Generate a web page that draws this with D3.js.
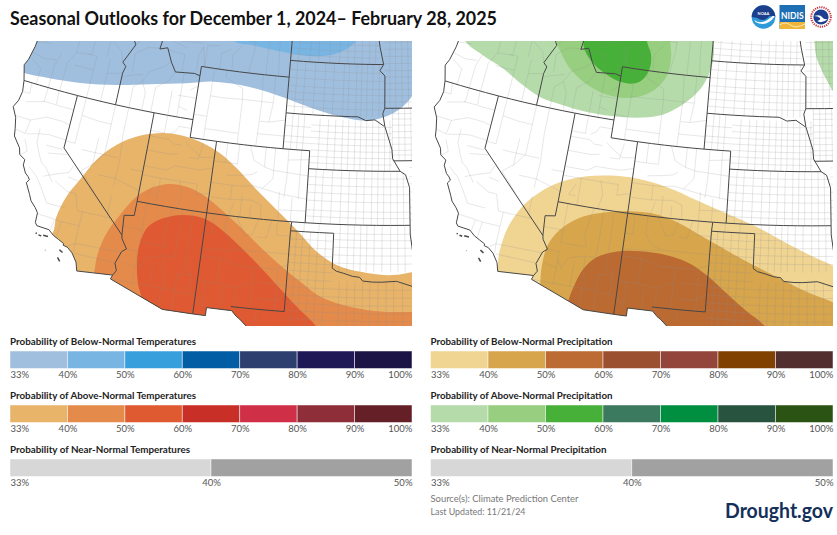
<!DOCTYPE html>
<html>
<head>
<meta charset="utf-8">
<style>
body { margin: 0; background: #fff; }
text { font-family: Lato, "Noto Sans", sans-serif; }
</style>
<script src="https://cdn.jsdelivr.net/npm/d3@7"></script>
</head>
<body>
<div id="chart_area"></div>
<script>
// legend values
var below33to100 = ["33%", "40%", "50%", "60%", "70%", "80%", "90%", "100%"];
var nearTicks = ["33%", "40%", "50%"];
var belowTempColors = ["#a0bfdf", "#79b5e3", "#389fdd", "#035da4", "#2d3f6f", "#1f1a55", "#1c1445"];
var aboveTempColors = ["#e8b46a", "#e48b4b", "#df5a30", "#c82f27", "#cf3048", "#8d2e38", "#652027"];
var nearColors = ["#d7d7d7", "#a1a1a1"];
var belowPrecipColors = ["#f0d492", "#d7a54c", "#bb6b33", "#9b5130", "#94453b", "#7f4000", "#522e2e"];
var abovePrecipColors = ["#b5dbaa", "#97ce80", "#47b038", "#3b7a5e", "#008f41", "#28543f", "#2a5314"];

// outlook contours, lon/lat
var tempBelow33 = [[-127,42.7],[-124.72,42.4],[-122.39,42.52],[-119.83,42.74],[-117.3,43.08],[-114.79,43.51],[-112,43.94],[-109.95,44.26],[-107.83,44.28],[-105.68,44.07],[-103.81,43.73],[-101.69,43.28],[-99.33,42.9],[-97.79,42.8],[-96.51,43],[-95.21,43.5],[-94.26,44.23],[-93.85,45.05],[-93.5,46.5],[-93.5,50],[-110,50],[-127,49]];
var tempBelow40 = [[-108.84,46.71],[-107.17,46.57],[-104.7,46.37],[-101.95,46.28],[-100.07,46.58],[-99.01,47.08],[-98.79,47.27],[-98.5,48.5],[-109.5,48.5]];
var tempAbove33 = [[-119.31,34.24],[-119.32,35.19],[-118.98,36.41],[-118.35,37.48],[-117.51,38.78],[-116.32,39.83],[-114.77,40.59],[-113.1,40.98],[-111.59,41.02],[-110.02,40.79],[-108.68,40.37],[-107.31,39.66],[-105.68,38.58],[-104.12,37.58],[-102.59,36.56],[-101.09,35.42],[-99.67,34.74],[-98.05,34.41],[-96.22,34.24],[-94.48,34.41],[-92,35],[-92,28],[-120,28],[-121,32]];
var tempAbove40 = [[-115.97,32.6],[-115.99,33.73],[-115.7,34.92],[-115.05,36.06],[-114.15,37.24],[-113.11,37.93],[-111.97,38.27],[-110.74,38.26],[-109.47,37.95],[-108.16,37.34],[-106.59,36.46],[-105.06,35.47],[-103.57,34.55],[-102.12,33.71],[-100.71,32.94],[-99.12,32.53],[-97.11,32.25],[-94.53,32.19],[-92,32.3],[-92,28],[-116,28],[-116,31]];
var tempAbove50 = [[-112.53,31.65],[-112.95,32.53],[-113.26,33.61],[-113.32,34.73],[-112.96,35.72],[-112.02,36.33],[-110.67,36.69],[-109.24,36.67],[-107.98,36.24],[-106.69,35.52],[-105.17,34.53],[-103.68,33.43],[-102.24,32.31],[-100.95,31.35],[-99.5,30],[-112.5,29.5]];
var precipAbove33 = [[-123.68,44.48],[-121.97,43.96],[-120.19,43.54],[-118.37,42.9],[-116.92,42.48],[-115.31,42.32],[-113.19,42.18],[-111.12,42.2],[-109.35,42.32],[-107.6,42.62],[-105.9,43.41],[-104.72,44.33],[-104.07,45.39],[-103.91,46.33],[-104,47.07],[-104.3,49.5],[-126,46.5]];
var precipAbove33NE = [[-95.77,47.3],[-95.64,46.46],[-95.24,45.72],[-94.72,44.98],[-94.26,44.42],[-92.5,43.5],[-92,49],[-96,49]];
var precipAbove40 = [[-116.6,45.76],[-115.99,45.1],[-115.09,44.38],[-113.86,43.79],[-112.45,43.41],[-110.85,43.28],[-109.57,43.45],[-108.35,43.95],[-107.46,44.87],[-107.31,45.9],[-107.54,46.82],[-108,49],[-117,47.5]];
var precipAbove50 = [[-114.49,46.06],[-114.22,45.53],[-113.35,44.89],[-112.46,44.53],[-111.32,44.2],[-109.98,44.17],[-109.26,44.52],[-108.87,45.21],[-108.95,45.94],[-109.42,46.65],[-110,49],[-114.8,48]];
var precipBelow33 = [[-117.24,32.46],[-117.3,33.68],[-117.1,35.06],[-116.39,36.41],[-115.44,37.32],[-114.18,38.08],[-112.35,38.67],[-110.68,38.92],[-108.73,38.97],[-106.48,38.7],[-104.22,38.13],[-102.01,37.52],[-99.82,36.86],[-97.67,35.99],[-95.81,35.26],[-94.48,34.77],[-92,33.8],[-92,28],[-118,28],[-118,31]];
var precipBelow40 = [[-114.17,32.24],[-114.3,33.26],[-114.15,34.61],[-113.35,35.67],[-112.1,36.44],[-110.52,36.89],[-108.65,37.14],[-107.21,37.15],[-105.5,36.83],[-103.78,36.21],[-101.85,35.48],[-99.94,34.73],[-98.09,34.04],[-96.26,33.31],[-94.52,32.74],[-92,31.8],[-92,28],[-114,28],[-114.1,31]];
var precipBelow50 = [[-112.14,31.71],[-111.96,32.48],[-111.5,33.58],[-110.73,34.33],[-109.43,34.82],[-107.83,35],[-106.2,34.97],[-104.55,34.67],[-103.1,34.02],[-101.67,33.08],[-100.38,32.21],[-99.12,31.42],[-98,30],[-112.3,29.5]];

// pacific coast and southern border
var coastLine = [[-123.95,46.3],[-124.05,45],[-124.15,44],[-124.35,43.2],[-124.55,42.84],[-124.21,42],[-124.07,41.4],[-124.16,40.87],[-124.41,40.44],[-124,39.9],[-123.8,39.3],[-123.7,38.9],[-123.1,38.35],[-122.95,38],[-122.5,37.8],[-122.5,37.5],[-122.2,37.1],[-121.95,36.95],[-121.8,36.8],[-121.95,36.6],[-121.5,36],[-121.3,35.7],[-120.9,35.4],[-120.65,35.15],[-120.62,34.6],[-120.47,34.45],[-119.6,34.4],[-119.2,34.15],[-118.8,34],[-118.4,33.85],[-118.4,33.75],[-118.1,33.7],[-117.7,33.45],[-117.3,33],[-117.12,32.53]];
var mexicoBorder = [[-117.12,32.53],[-114.72,32.72],[-114.81,32.49],[-111.07,31.33],[-109.05,31.33],[-108.21,31.33],[-108.21,31.78],[-106.53,31.78],[-106.2,31.5],[-105.95,31.36],[-105,30.65],[-104.5,29.7]];
var outerCorners = [[-103,28.9],[-90,28],[-90,50],[-124,50]];
var islands = [[[-120.42,34.04],[-120.33,34.03]],[[-120.2,33.98],[-120.0,33.96]],[[-119.88,34.02],[-119.55,34.02]],[[-119.5,33.25],[-119.48,33.24]],[[-118.58,33.46],[-118.33,33.35]],[[-118.58,33.02],[-118.38,32.84]]];

var stateLines = [
  coastLine, mexicoBorder,
  [[-124.21,42],[-123,42],[-122,42],[-121,42],[-120,42],[-119,42],[-118,42],[-117,42],[-116,42],[-115,42],[-114.04,42],[-113,42],[-112,42],[-111.05,42]],
  [[-120,42],[-120,39],[-114.63,35]],
  [[-114.04,42],[-114.04,37]],
  [[-111.05,45],[-111.05,41]],
  [[-111.05,41],[-110,41],[-109.05,41]],
  [[-109.05,41],[-109.05,37],[-109.05,31.33]],
  [[-114.04,37],[-113,37],[-112,37],[-111,37],[-110,37],[-109.05,37],[-108,37],[-107,37],[-106,37],[-105,37],[-104,37],[-103,37],[-102.05,37],[-101,37],[-100,37],[-99,37],[-98,37],[-97,37],[-96,37],[-95,37],[-94.62,37]],
  [[-114.04,37],[-114.05,36.2],[-114.75,36.1],[-114.63,35],[-114.57,34.8],[-114.14,34.3],[-114.43,34.1],[-114.72,33.4],[-114.53,33],[-114.72,32.72]],
  [[-117.03,42],[-117.03,43.8],[-116.9,44.2],[-117.2,44.4],[-116.5,45.5],[-116.9,46],[-117.04,46.4],[-117.04,47]],
  [[-111.05,44.47],[-111.5,44.55],[-112.3,44.5],[-113,44.45],[-113.45,44.95],[-113.95,45.7],[-114.55,45.55],[-114.35,46.65],[-115,47.2]],
  [[-111.05,45],[-110,45],[-109,45],[-108,45],[-107,45],[-106,45],[-105,45],[-104.05,45]],
  [[-104.05,41],[-104.05,43],[-104.05,45],[-104.05,49]],
  [[-109.05,41],[-108,41],[-107,41],[-106,41],[-105,41],[-104.05,41],[-103,41],[-102.05,41]],
  [[-102.05,41],[-102.05,37]],
  [[-102.05,40],[-101,40],[-100,40],[-99,40],[-98,40],[-97,40],[-96,40],[-95.3,40]],
  [[-104.05,43],[-103,43],[-102,43],[-101,43],[-100,43],[-99,43],[-98.5,43],[-97.9,42.8],[-97.2,42.85],[-96.5,42.5]],
  [[-104.05,45.94],[-103,45.94],[-102,45.94],[-101,45.94],[-100,45.94],[-99,45.94],[-98,45.94],[-96.56,45.94]],
  [[-97.2,49],[-97.1,48],[-96.85,46.9],[-96.56,45.94],[-96.85,45.6],[-96.45,45.3],[-96.45,43.5],[-96.6,43.2],[-96.44,42.49],[-96.1,41.7],[-95.9,41.2],[-95.85,40.7],[-95.3,40],[-94.9,39.8],[-94.62,39.1],[-94.62,37],[-94.62,36.5],[-94.45,35.4],[-94.48,33.64]],
  [[-96.45,43.5],[-95,43.5],[-94,43.5],[-93,43.5],[-92,43.5],[-91,43.5]],
  [[-95.77,40.58],[-95,40.58],[-94,40.58],[-93,40.58],[-92,40.58],[-91,40.58]],
  [[-103,37],[-103.04,36.5],[-103.05,35],[-103.06,32]],
  [[-103.06,32],[-104,32],[-105,32],[-106.62,32]],
  [[-103.04,36.5],[-102,36.5],[-101,36.5],[-100,36.5]],
  [[-100,36.5],[-100,34.56],[-99.7,34.4],[-99.2,34.3],[-98.6,34.15],[-98.1,34.1],[-97.9,33.9],[-97.2,33.85],[-96.6,33.85],[-95.6,33.9],[-94.5,33.6]]
];

// county grids on the plains, lines of constant lon and lat
var plainsGrids = [
  {lons:[-101.48,-100.95,-100.27,-99.6,-99.03,-98.48,-97.93,-97.37,-96.93,-96.5,-96,-95.52,-95.07], lats:[37.38,37.73,38.26,38.7,39.13,39.57], w:-102.05, e:-94.62, s:37, n:40},
  {lons:[-101.4,-100.75,-100.2,-99.65,-99.2,-98.7,-98.27,-97.83,-97.37,-96.9,-96.45,-96.05], lats:[40.35,40.7,41.05,41.4,41.74,42.09,42.44], w:-102.05, e:-95.9, s:40, n:42.8},
  {lons:[-103.5,-103.05,-102.6], lats:[41.4,41.74,42.3], w:-104.05, e:-102.05, s:41, n:43},
  {lons:[-95.86,-95.38,-94.92,-94.45,-93.95,-93.5,-93], lats:[40.9,41.16,41.5,41.86,42.2,42.56,42.9,43.2], w:-95.9, e:-90, s:40.58, n:43.5},
  {lons:[-94.2,-93.8,-93.3,-92.8], lats:[37.3,37.65,38,38.4,38.85,39.3,39.7,40.2], w:-94.62, e:-90, s:37, n:40.58},
  {lons:[-99.55,-99,-98.55,-98.1,-97.67,-97.15,-96.6,-96,-95.5,-95], lats:[36.5,36.15,35.73,35.3,34.85], w:-100, e:-94.45, s:34.4, n:37},
  {lons:[-102.1,-101.05], lats:[], w:-103, e:-100, s:36.5, n:37},
  {lons:[-102.6,-102.17,-101.62,-101.09,-100.54], lats:[36.06,35.62,35.18,34.75,34.31,33.83,33.4,32.96,32.52,32.09,31.65,31.2,30.75], w:-103.05, e:-100, s:30.5, n:36.5},
  {lons:[-99.48,-98.95,-98.42,-97.9,-97.4,-96.85,-96.3,-95.8,-95.2], lats:[33.4,32.96,32.52,32.09,31.65,31.2,30.75], w:-100, e:-94, s:30.5, n:33.85},
  {lons:[-103.45,-102.8,-102,-101.2,-100.5,-99.7,-99.3,-98.7,-98.3,-97.85,-97.4,-96.9], lats:[43.4,43.8,44.2,44.55,45,45.45], w:-104.05, e:-96.5, s:43, n:45.94},
  {lons:[-103.4,-102.5,-101.8,-100.9,-100.1,-99.45,-98.9,-98.3,-97.7,-97.2], lats:[46.3,46.65,47,47.33], w:-104.05, e:-96.8, s:45.94, n:48.5},
  {lons:[-96.05,-95.6,-95.1,-94.6,-94.1,-93.6], lats:[43.85,44.2,44.55,44.9,45.25,45.6,46,46.4,46.8,47.2], w:-96.5, e:-92, s:43.5, n:48}
];

// county lines in the west, rough
var westCounties = [
  // nevada
  [[-117.02,42],[-117.02,39.2],[-117.75,38.4]],[[-116,42],[-116,40.5],[-115.85,39],[-115.9,37.5]],[[-114.95,38.68],[-114.05,38.68]],[[-116,39.15],[-118.7,39.15]],[[-119.3,41],[-118,40.9],[-117,40.9]],[[-119.3,42],[-119.3,39.4],[-120,39.4]],[[-117.7,40],[-117.7,38.5],[-118.4,38],[-117.15,37]],[[-115.9,37],[-115.9,36],[-115.7,35.8]],[[-117.15,38],[-115.9,38],[-114.05,37.6]],
  // california
  [[-123.6,42],[-123.5,41.4],[-124,41.4]],[[-122.3,42],[-122.3,41.2],[-123.6,40.9]],[[-121.45,42],[-121.35,41.2],[-122.4,41.2]],[[-120,41.18],[-121.3,41.18]],[[-124.1,40],[-122.9,40],[-121.8,40.4],[-120.6,40.4],[-120,40.3]],[[-122.9,40],[-123,39.2],[-123.8,39.3]],[[-122.9,39.2],[-122,39.4],[-121.3,39.5],[-120,39.45]],[[-122.9,38.9],[-122.5,38.3],[-122.9,38]],[[-122.05,39.7],[-122,38.9],[-121.6,38.3],[-121.3,37.9],[-120.9,37.7],[-120.2,37]],[[-121.3,38.9],[-120.05,38.9]],[[-121,38.5],[-119.6,38.7]],[[-120.9,37.2],[-120.05,37.5],[-119.2,37.75],[-119,38.2]],[[-122.1,37.5],[-121.4,37.1],[-120.9,36.6],[-120.2,35.8],[-119.5,35.8]],[[-120.65,35.1],[-119.5,35.05],[-118.9,35],[-117.65,35]],[[-118.9,35.8],[-119.5,35.8]],[[-118.4,36.7],[-118,35.8],[-115.65,35.8]],[[-117.65,35.8],[-117.65,34],[-117.6,33.5]],[[-119.5,34.4],[-119.4,35]],[[-119,34.1],[-118.9,35]],[[-118.1,33.75],[-117.65,34]],[[-117.65,34],[-114.43,34.05]],[[-117.5,33.45],[-114.72,33.43]],[[-120,37.1],[-119,36.7],[-118.4,36.7]],[[-118.4,37.4],[-119.2,37.5]],
  // oregon
  [[-123.25,42],[-123.25,42.9],[-124.1,43.3]],[[-122.3,42],[-122.3,43.3],[-122,44]],[[-121.4,42],[-121.4,43.6],[-120.9,44.3]],[[-119.3,42],[-119.3,44.4],[-120,44.4]],[[-118.2,42],[-118.2,44.4]],[[-123.2,43.5],[-124.2,43.65]],[[-122.3,43.6],[-123.2,43.5]],[[-123,44.4],[-124.1,44.3]],[[-120.8,43.6],[-119.3,43.6]],[[-118.2,43.6],[-117.03,43.8]],[[-120.9,45],[-120.9,44.3],[-119.7,44.4],[-119.7,45.5]],[[-118.5,44.5],[-118.5,45.5],[-117.5,45],[-117.2,44.4]],
  // idaho
  [[-117,43.6],[-116.3,43.8],[-115.4,44]],[[-115,42],[-115,43],[-115.4,43.6],[-115,44.2],[-114,44.6],[-113.45,44.95]],[[-116,42],[-116,43.2],[-115.4,43.6]],[[-114.3,42],[-114.3,43.4],[-113.4,43.9],[-113,44.45]],[[-113,42],[-113,43.4]],[[-112.3,42],[-112.3,43.7],[-112.3,44.5]],[[-111.6,42.45],[-112.3,42.6]],[[-112.5,43.2],[-111.05,43.2]],[[-111.6,43.6],[-111.05,43.9]],[[-116.3,44],[-116.4,45],[-115.5,45.5],[-114.5,45.6]],[[-116.5,45.5],[-116,46],[-115,46.3]],
  // montana
  [[-112.5,44.5],[-112.5,45.5],[-113.9,45.6]],[[-111.4,44.7],[-111.4,45.6],[-111.1,46.1],[-110.8,45]],[[-110.8,45],[-110.8,46.2],[-109.8,46.3]],[[-109.6,45],[-109.6,45.9],[-108.9,46.2]],[[-108.6,45],[-108.7,45.9],[-108,46.5]],[[-107.3,45],[-107,46.3],[-107,47.2]],[[-105.9,45],[-105.9,46.9]],[[-104.9,45],[-105,46.5],[-105,47.2]],[[-111.2,46.3],[-113,46.2],[-113.5,46.6]],[[-112.4,45.9],[-113.5,46.1],[-114.4,46.65]],[[-110.6,46.9],[-109.6,46.7],[-108,46.8],[-106.9,46.75]],[[-112,46.7],[-112,47.3]],[[-112.4,47],[-110.6,46.9]],
  // wyoming
  [[-110,45],[-110,43.5],[-110.05,42.3],[-110.05,41]],[[-109,45],[-109,44.6],[-107.6,44.1],[-107.5,43.5],[-107.5,41]],[[-106.1,45],[-106,43.5],[-106.1,41]],[[-110.05,42.3],[-111.05,42.3]],[[-110.05,43.45],[-108.8,43.45],[-107.5,43.5]],[[-105.1,45],[-105.1,43.5],[-105.3,42.4],[-106,42.4]],[[-104.05,42.6],[-105.3,42.4]],[[-104.05,41.7],[-106.1,41.7]],[[-107.5,43.5],[-106,43.5],[-105.1,43.5]],[[-110.05,41.6],[-107.5,41.6]],
  // utah
  [[-113,42],[-113,41],[-114.04,41]],[[-114.04,40.7],[-112.6,40.7],[-112.2,40.5],[-111.6,40.5]],[[-114.04,39.9],[-112.3,39.9],[-111.7,40]],[[-114.04,39],[-112.4,39],[-111.8,39.3],[-111.3,39.3],[-110,39.3],[-109.05,39.5]],[[-114.04,38.5],[-113,38.5],[-112.5,38.5],[-111,38.5],[-110,38.5]],[[-113,38.15],[-113.4,37.5],[-112.9,37.5]],[[-112.7,38.5],[-112.7,37]],[[-111.3,38.6],[-111,37.8],[-111.2,37]],[[-111.3,40.7],[-111,40.5],[-110,40],[-109.05,40.1]],[[-111.05,41.5],[-112,41.5],[-112.2,41.2],[-112.6,41]],[[-110,40.8],[-110.2,39.9],[-110.9,39.9]],[[-110,38.5],[-110,37.9],[-109.05,38.1]],
  // colorado
  [[-108.2,41],[-108.2,39.9],[-109.05,39.9]],[[-107.3,41],[-107.3,39.9],[-108.2,39.9]],[[-106.5,41],[-106.1,40.2],[-105.3,39.9],[-104.6,39.75],[-102.05,39.6]],[[-105.3,41],[-105.3,39.9]],[[-104.6,41],[-104.6,39.3],[-105.3,38.7]],[[-103.6,41],[-103.6,39.3],[-103.7,38.3]],[[-102.65,41],[-102.65,38.3]],[[-102.05,40.5],[-103.6,40.4]],[[-109.05,38.7],[-107.9,38.7],[-106.8,38.7],[-106,38.8],[-105.3,38.7],[-104.05,38.5],[-102.05,38.3]],[[-108,39.2],[-107,39.3],[-106.2,39.4],[-105.8,39.6]],[[-107.5,38.7],[-107.5,37.9],[-108.9,37.9]],[[-107.5,37.9],[-106,38],[-105.3,37.8],[-105.2,37]],[[-107.5,37],[-107.2,37.8]],[[-106.7,37],[-106.7,38.2]],[[-106,37],[-106,37.7]],[[-104.05,38.6],[-104,37]],[[-103.1,38.3],[-103.1,37]],[[-102.05,37.65],[-104,37.6]],
  // new mexico
  [[-108.5,37],[-108.5,35.9],[-109.05,35.9]],[[-107.6,37],[-107.6,36],[-107.2,35.5],[-106.4,35.2],[-105.3,35.2],[-103.04,35.2]],[[-106.9,37],[-106.2,36],[-105.7,36.1],[-105.35,37]],[[-105.35,36],[-104.7,36],[-104.4,37]],[[-104,37],[-104,36.2],[-103.04,36.2]],[[-109.05,35],[-107.2,35.1],[-106.4,35.2]],[[-109.05,34.6],[-107.7,34.6],[-106.4,34.3],[-105.3,34.3],[-104,34.3],[-103.04,34.6]],[[-107.7,34.6],[-107.7,33.2],[-109.05,33.2]],[[-108.5,33.2],[-108.5,31.8],[-109.05,32.4]],[[-107.7,33.2],[-106.4,33.05],[-105.7,33.4],[-105.3,33.4]],[[-107.3,33],[-107.3,31.78]],[[-106.4,32.95],[-106.4,31.8]],[[-105.35,34.3],[-105.35,32]],[[-104.9,33.5],[-103.8,33.5],[-103.05,33.45]],[[-104.9,32.6],[-103.7,32.6],[-103.05,32.95]],[[-103.7,34.3],[-103.7,32]],
  // arizona
  [[-113.33,37],[-113.33,35.5],[-113.33,34.8]],[[-114.7,35.5],[-113.33,35.5]],[[-111.45,37],[-111.8,35.5],[-111.55,34.8]],[[-110.75,37],[-110.75,35.5],[-110.8,34.3]],[[-110,37],[-110,34.9],[-110,33.8],[-109.5,33.5]],[[-113.33,34.8],[-112.6,34.8],[-111.55,34.8]],[[-113.33,34.3],[-114.13,34.3]],[[-113.33,34.3],[-113.33,33.9],[-113,33.4],[-112.7,34],[-112,34.2],[-111.5,34.3],[-110.8,34.3]],[[-111.5,34.3],[-111.5,33.5],[-111.15,32.5],[-110.45,32.5],[-110.45,33.4],[-109.5,33.5]],[[-112.2,33.9],[-112.2,32.5]],[[-113.33,33.9],[-113.33,32.5],[-112.2,32.5],[-111.15,32.5]],[[-114.2,33.5],[-113.33,33.4]],[[-113.33,32.5],[-114.8,32.5]],[[-110.45,32.4],[-109.05,32.4]],[[-110.45,31.33],[-110.45,32.5]],[[-109.5,33.5],[-109.5,32.4]],[[-111.37,31.43],[-111.4,32.5]],
  // west texas
  [[-104.9,32],[-104.9,31.3]],[[-103.05,31],[-105.4,31]]
];

// panel sizes
var sFrameWidth = 837;
var sFrameHeight = 535;
var sMapTop = 41;
var sMapBottom = 326;
var sMapScale = 1024;
var sPanels = [
  {left:0, right:412, x0:390.6, y0:207.4, barLeft:10, barRight:412},
  {left:431, right:833, x0:811.6, y0:207.8, barLeft:430.5, barRight:833}
];

var sChartArea = d3.select("#chart_area");
var sFrame = sChartArea.append("svg")
  .attr("width", sFrameWidth)
  .attr("height", sFrameHeight)
  .style("display", "block");

// the reference is a soft image, take the edge off the map lines
sFrame.append("defs").append("filter").attr("id", "soft")
  .append("feGaussianBlur").attr("stdDeviation", 0.3);

// title
sFrame.append("text")
  .attr("x", 10).attr("y", 25)
  .attr("font-size", 18.5).attr("font-weight", 700).attr("fill", "#111")
  .attr("textLength", 487).attr("lengthAdjust", "spacingAndGlyphs")
  .text("Seasonal Outlooks for December 1, 2024\u2013 February 28, 2025");

function drawMap(pPanel, pIndex, pFills) {
  var sProjection = d3.geoConicEqualArea()
    .parallels([29.5, 45.5])
    .rotate([96, 0])
    .center([0, 38])
    .scale(sMapScale)
    .translate([pPanel.x0, pPanel.y0]);
  var sLine = d3.line().curve(d3.curveLinear);
  var sSmooth = d3.line().curve(d3.curveCatmullRomClosed.alpha(0.5));
  var toPath = function(pts) { return sLine(pts.map(sProjection)); };

  // clip to the panel and the land
  var sDefs = sFrame.append("defs");
  sDefs.append("clipPath").attr("id", "panel" + pIndex).append("rect")
    .attr("x", pPanel.left).attr("y", sMapTop)
    .attr("width", pPanel.right - pPanel.left).attr("height", sMapBottom - sMapTop);
  var sLand = coastLine.concat(mexicoBorder.slice(1), outerCorners);
  sDefs.append("clipPath").attr("id", "land" + pIndex).append("path")
    .attr("d", toPath(sLand) + "Z");

  var sMap = sFrame.append("g").attr("clip-path", "url(#panel" + pIndex + ")");
  var sSoft = sMap.append("g").attr("filter", "url(#soft)");
  var sFillGroup = sSoft.append("g").attr("clip-path", "url(#land" + pIndex + ")");

  sFillGroup.selectAll("path.fill").data(pFills).enter().append("path")
    .attr("class", "fill")
    .attr("d", function(d) { return sSmooth(d.pts.map(sProjection)); })
    .attr("fill", function(d) { return d.color; });

  // county lines
  var sCountyLines = westCounties.slice();
  plainsGrids.forEach(function(g) {
    g.lons.forEach(function(lon) { sCountyLines.push([[lon, g.s], [lon, g.n]]); });
    g.lats.forEach(function(lat) {
      sCountyLines.push([[g.w, lat]].concat(g.lons.map(function(lon) { return [lon, lat]; }), [[g.e, lat]]));
    });
  });
  sFillGroup.selectAll("path.county").data(sCountyLines).enter().append("path")
    .attr("class", "county")
    .attr("d", toPath)
    .attr("fill", "none")
    .attr("stroke", "#8c8c8c")
    .attr("stroke-opacity", 0.36)
    .attr("stroke-width", 0.6);

  // state borders and islands
  sSoft.selectAll("path.state").data(stateLines).enter().append("path")
    .attr("class", "state")
    .attr("d", toPath)
    .attr("fill", "none")
    .attr("stroke", "#474747")
    .attr("stroke-width", 1);
  sSoft.selectAll("path.island").data(islands).enter().append("path")
    .attr("class", "island")
    .attr("d", toPath)
    .attr("fill", "none")
    .attr("stroke", "#474747")
    .attr("stroke-width", 1.5);
}

drawMap(sPanels[0], 0, [
  {pts:tempBelow33, color:belowTempColors[0]},
  {pts:tempBelow40, color:belowTempColors[1]},
  {pts:tempAbove33, color:aboveTempColors[0]},
  {pts:tempAbove40, color:aboveTempColors[1]},
  {pts:tempAbove50, color:aboveTempColors[2]}
]);
drawMap(sPanels[1], 1, [
  {pts:precipAbove33, color:abovePrecipColors[0]},
  {pts:precipAbove33NE, color:abovePrecipColors[0]},
  {pts:precipAbove40, color:abovePrecipColors[1]},
  {pts:precipAbove50, color:abovePrecipColors[2]},
  {pts:precipBelow33, color:belowPrecipColors[0]},
  {pts:precipBelow40, color:belowPrecipColors[1]},
  {pts:precipBelow50, color:belowPrecipColors[2]}
]);

// legend bars
function drawLegend(pPanel, pTop, pTitle, pTitleWidth, pTicks, pColors) {
  var sX = d3.scalePoint().domain(pTicks).range([pPanel.barLeft, pPanel.barRight]);
  var sLegend = sFrame.append("g");

  sLegend.append("text")
    .attr("x", pPanel.barLeft).attr("y", pTop - 6)
    .attr("font-size", 10).attr("font-weight", 700).attr("fill", "#222")
    .attr("textLength", pTitleWidth).attr("lengthAdjust", "spacingAndGlyphs")
    .text(pTitle);

  sLegend.selectAll("rect").data(pColors).enter().append("rect")
    .attr("x", function(d, i) { return sX(pTicks[i]); })
    .attr("y", pTop)
    .attr("width", function(d, i) { return sX(pTicks[i + 1]) - sX(pTicks[i]); })
    .attr("height", 17.5)
    .attr("fill", function(d) { return d; })
    .attr("stroke", "#fff")
    .attr("stroke-opacity", 0.6)
    .attr("stroke-width", 0.8);

  var sAxis = d3.axisBottom(sX).tickSize(0).tickPadding(2.5);
  var sAxisGroup = sLegend.append("g")
    .attr("transform", "translate(0," + (pTop + 17.5) + ")")
    .call(sAxis);
  sAxisGroup.select(".domain").remove();
  sAxisGroup.selectAll("text")
    .attr("font-family", "Lato")
    .attr("font-size", 9.5)
    .attr("fill", "#555")
    .attr("text-anchor", function(d, i) {
      return i === 0 ? "start" : (i === pTicks.length - 1 ? "end" : "middle");
    });
}

drawLegend(sPanels[0], 351, "Probability of Below-Normal Temperatures", 186, below33to100, belowTempColors);
drawLegend(sPanels[0], 405, "Probability of Above-Normal Temperatures", 186, below33to100, aboveTempColors);
drawLegend(sPanels[0], 459, "Probability of Near-Normal Temperatures", 180, nearTicks, nearColors);
drawLegend(sPanels[1], 351, "Probability of Below-Normal Precipitation", 182, below33to100, belowPrecipColors);
drawLegend(sPanels[1], 405, "Probability of Above-Normal Precipitation", 182, below33to100, abovePrecipColors);
drawLegend(sPanels[1], 459, "Probability of Near-Normal Precipitation", 176, nearTicks, nearColors);

// source note and site name
sFrame.append("text").attr("x", 430.5).attr("y", 501.5)
  .attr("font-size", 10).attr("fill", "#777")
  .attr("textLength", 148).attr("lengthAdjust", "spacingAndGlyphs")
  .text("Source(s): Climate Prediction Center");
sFrame.append("text").attr("x", 430.5).attr("y", 514.5)
  .attr("font-size", 10).attr("fill", "#777")
  .attr("textLength", 95).attr("lengthAdjust", "spacingAndGlyphs")
  .text("Last Updated: 11/21/24");
sFrame.append("text").attr("x", 725).attr("y", 517.5)
  .attr("font-size", 20).attr("font-weight", 700).attr("fill", "#14305a")
  .attr("textLength", 108).attr("lengthAdjust", "spacingAndGlyphs")
  .text("Drought.gov");

// logos
var sNoaa = sFrame.append("g").attr("transform", "translate(763.5,17)");
sNoaa.append("circle").attr("r", 11.8).attr("fill", "#2f9ad8");
sNoaa.append("path").attr("d", "M-11.8,0A11.8,11.8 0 0 1 11.8,0L6,-1Q0,6 -6,1Z").attr("fill", "#1b3f8b");
sNoaa.append("path").attr("d", "M-9,3Q-2,9 9,-1L11.5,-1Q3,11 -8,5Z").attr("fill", "#fff");
sNoaa.append("text").attr("y", -2.5).attr("text-anchor", "middle")
  .attr("font-size", 4).attr("font-weight", 700).attr("fill", "#fff").text("NOAA");

var sNidis = sFrame.append("g").attr("transform", "translate(779.5,5)");
sNidis.append("rect").attr("width", 25.5).attr("height", 24).attr("fill", "#1f6fb5");
sNidis.append("rect").attr("y", 17).attr("width", 25.5).attr("height", 7).attr("fill", "#f0b63c");
sNidis.append("path").attr("d", "M0,20Q6,16 11,20T25.5,19").attr("fill", "none").attr("stroke", "#fbe7b0").attr("stroke-width", 1);
sNidis.append("text").attr("x", 12.75).attr("y", 13.5).attr("text-anchor", "middle")
  .attr("font-size", 8.5).attr("font-weight", 700).attr("fill", "#fff").text("NIDIS");

var sNws = sFrame.append("g").attr("transform", "translate(821,17)");
sNws.append("circle").attr("r", 11.3).attr("fill", "#fff");
sNws.append("circle").attr("r", 9.8).attr("fill", "none").attr("stroke", "#c8343c").attr("stroke-width", 2).attr("stroke-dasharray", "1.2 1");
sNws.append("circle").attr("r", 7.6).attr("fill", "#1e3f8f");
sNws.append("path").attr("d", "M-7,-1Q-1,-3 1,0T7,2Q1,7 -4,4Q0,3 -1,1Q-3,-1 -7,-1Z").attr("fill", "#fff");
</script>
</body>
</html>
